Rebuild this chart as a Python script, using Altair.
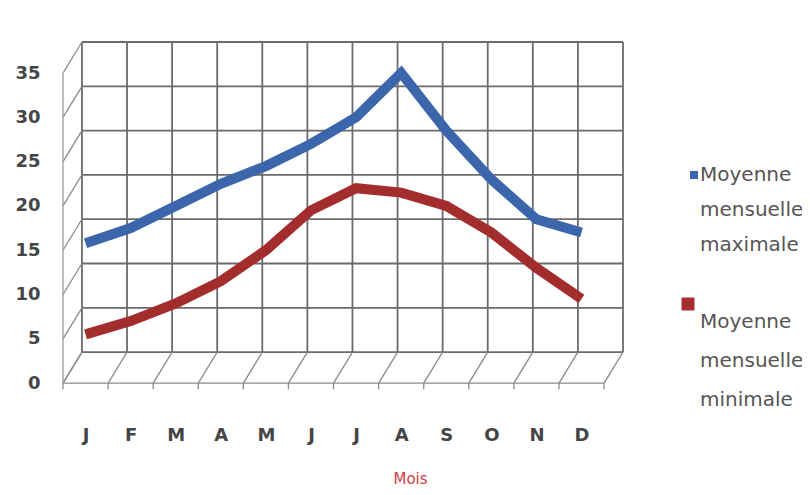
import json
import altair as alt
import pandas as pd

# ---------------- data ----------------
MONTHS = ["J", "F", "M", "A", "M", "J", "J", "A", "S", "O", "N", "D"]
SERIES = ["Moyenne mensuelle maximale", "Moyenne mensuelle minimale"]
MAX_VALUES = [15.8, 17.5, 20.0, 22.5, 24.5, 27.0, 30.0, 35.0, 28.5, 23.0, 18.5, 17.0]
MIN_VALUES = [5.5, 7.0, 9.0, 11.5, 15.0, 19.5, 22.0, 21.5, 20.0, 17.0, 13.0, 9.5]
Y_TICKS = [0, 5, 10, 15, 20, 25, 30, 35]
COLORS = ["#3b66ac", "#a32d2d"]
X_TITLE = "Mois"

# pseudo-3D depth of the Excel chart (back wall offset, in scale units)
DEPTH_X = 0.42
DEPTH_Y = 3.5
N = len(MONTHS)
Y_TOP = Y_TICKS[-1] + DEPTH_Y

rows = []
for name, vals in zip(SERIES, [MAX_VALUES, MIN_VALUES]):
    for i, v in enumerate(vals):
        rows.append({"series": name, "pos": i + 0.5, "value": v})
df = pd.DataFrame(rows)

xs = alt.Scale(domain=[0, N + DEPTH_X], nice=False, zero=False)
ys = alt.Scale(domain=[-1, Y_TOP], nice=False, zero=False)

FONT = "DejaVu Sans"

label_expr = json.dumps(MONTHS) + "[floor(datum.value)]"
X_AXIS = alt.Axis(values=[i + 0.5 for i in range(N)], labelExpr=label_expr,
                  grid=False, ticks=False, domain=False,
                  labelFont=FONT, labelFontSize=18, labelFontWeight="bold",
                  labelColor="#454545",
                  labelBaseline="top", labelPadding=34,
                  title=X_TITLE, titleFont=FONT, titleFontSize=15,
                  titleFontWeight="normal", titleColor="#d23c3c",
                  titleX=347, titleY=79, titleBaseline="top", titleAlign="center")
Y_AXIS = alt.Axis(values=Y_TICKS, grid=False, ticks=False, domain=False,
                  labelFont=FONT, labelFontSize=18, labelFontWeight="bold",
                  labelColor="#454545",
                  labelPadding=23, title=None)


def X(field):
    return alt.X(field, scale=xs, axis=X_AXIS)


def Y(field):
    return alt.Y(field, scale=ys, axis=Y_AXIS)


# ---------------- 3D frame ----------------
cols = pd.DataFrame({"u": list(range(N + 1))})
levels = pd.DataFrame({"v": Y_TICKS})

back_h = alt.Chart(levels).transform_calculate(
    x0=f"{DEPTH_X}", x1=f"{N + DEPTH_X}", yy=f"datum.v + {DEPTH_Y}"
).mark_rule(color="#6b6b6b", strokeWidth=1.8).encode(
    x=X("x0:Q"), x2="x1:Q", y=Y("yy:Q"))

back_v = alt.Chart(cols).transform_calculate(
    xx=f"datum.u + {DEPTH_X}", y0=f"{DEPTH_Y}", y1=f"{Y_TOP}"
).mark_rule(color="#6b6b6b", strokeWidth=1.8).encode(
    x=X("xx:Q"), y=Y("y0:Q"), y2="y1:Q")

floor_diag = alt.Chart(cols).transform_calculate(
    x1=f"datum.u + {DEPTH_X}", y0="0", y1=f"{DEPTH_Y}"
).mark_rule(color="#8a8a8a", strokeWidth=1.3).encode(
    x=X("u:Q"), x2="x1:Q", y=Y("y0:Q"), y2="y1:Q")

floor_ticks = alt.Chart(cols).transform_calculate(
    y0="0", y1="-0.7"
).mark_rule(color="#8a8a8a", strokeWidth=1.3).encode(
    x=X("u:Q"), y=Y("y0:Q"), y2="y1:Q")

wall_diag = alt.Chart(levels).transform_calculate(
    x0="0", x1=f"{DEPTH_X}", y1=f"datum.v + {DEPTH_Y}"
).mark_rule(color="#8a8a8a", strokeWidth=1.3).encode(
    x=X("x0:Q"), x2="x1:Q", y=Y("v:Q"), y2="y1:Q")

front_edges = alt.Chart(pd.DataFrame({"k": [0]})).transform_calculate(
    x0="0", x1=f"{N}", y0="0", y1=f"{Y_TICKS[-1]}"
)
front_floor = front_edges.mark_rule(color="#8a8a8a", strokeWidth=1.4).encode(
    x=X("x0:Q"), x2="x1:Q", y=Y("y0:Q"))
front_axis = front_edges.mark_rule(color="#9a9a9a", strokeWidth=1.3).encode(
    x=X("x0:Q"), y=Y("y0:Q"), y2="y1:Q")

# ---------------- series ----------------
lines = alt.Chart(df).mark_line(strokeWidth=10, strokeJoin="miter", strokeCap="butt").encode(
    x=X("pos:Q"),
    y=Y("value:Q"),
    color=alt.Color("series:N", scale=alt.Scale(domain=SERIES, range=COLORS), legend=None),
    order="pos:Q",
)

# ---------------- legend ----------------
leg_blue_sq = alt.Chart(pd.DataFrame({"s": [SERIES[0]]})).mark_square(
    size=64, color=COLORS[0], opacity=1).encode(x=alt.value(631), y=alt.value(133))
leg_red_sq = alt.Chart(pd.DataFrame({"s": [SERIES[1]]})).mark_square(
    size=169, color=COLORS[1], opacity=1).encode(x=alt.value(625), y=alt.value(262))
leg_blue_tx = alt.Chart(pd.DataFrame({"s": [SERIES[0]]})).mark_text(
    lineBreak=" ", lineHeight=35, align="left", baseline="top",
    font=FONT, fontSize=20, color="#555555").encode(
    text="s:N", x=alt.value(637), y=alt.value(123))
leg_red_tx = alt.Chart(pd.DataFrame({"s": [SERIES[1]]})).mark_text(
    lineBreak=" ", lineHeight=39, align="left", baseline="top",
    font=FONT, fontSize=20, color="#555555").encode(
    text="s:N", x=alt.value(637), y=alt.value(270))

chart = alt.layer(
    back_h, back_v, floor_diag, floor_ticks, wall_diag, front_floor, front_axis,
    lines, leg_blue_sq, leg_red_sq, leg_blue_tx, leg_red_tx,
).properties(
    width=560, height=350,
    autosize=alt.AutoSizeParams(type="none"),
    padding={"left": 55, "top": 34, "right": 179, "bottom": 95},
    background="white",
).configure_view(stroke=None)

chart.save("out.html", embed_options={"renderer": "svg", "actions": False})
